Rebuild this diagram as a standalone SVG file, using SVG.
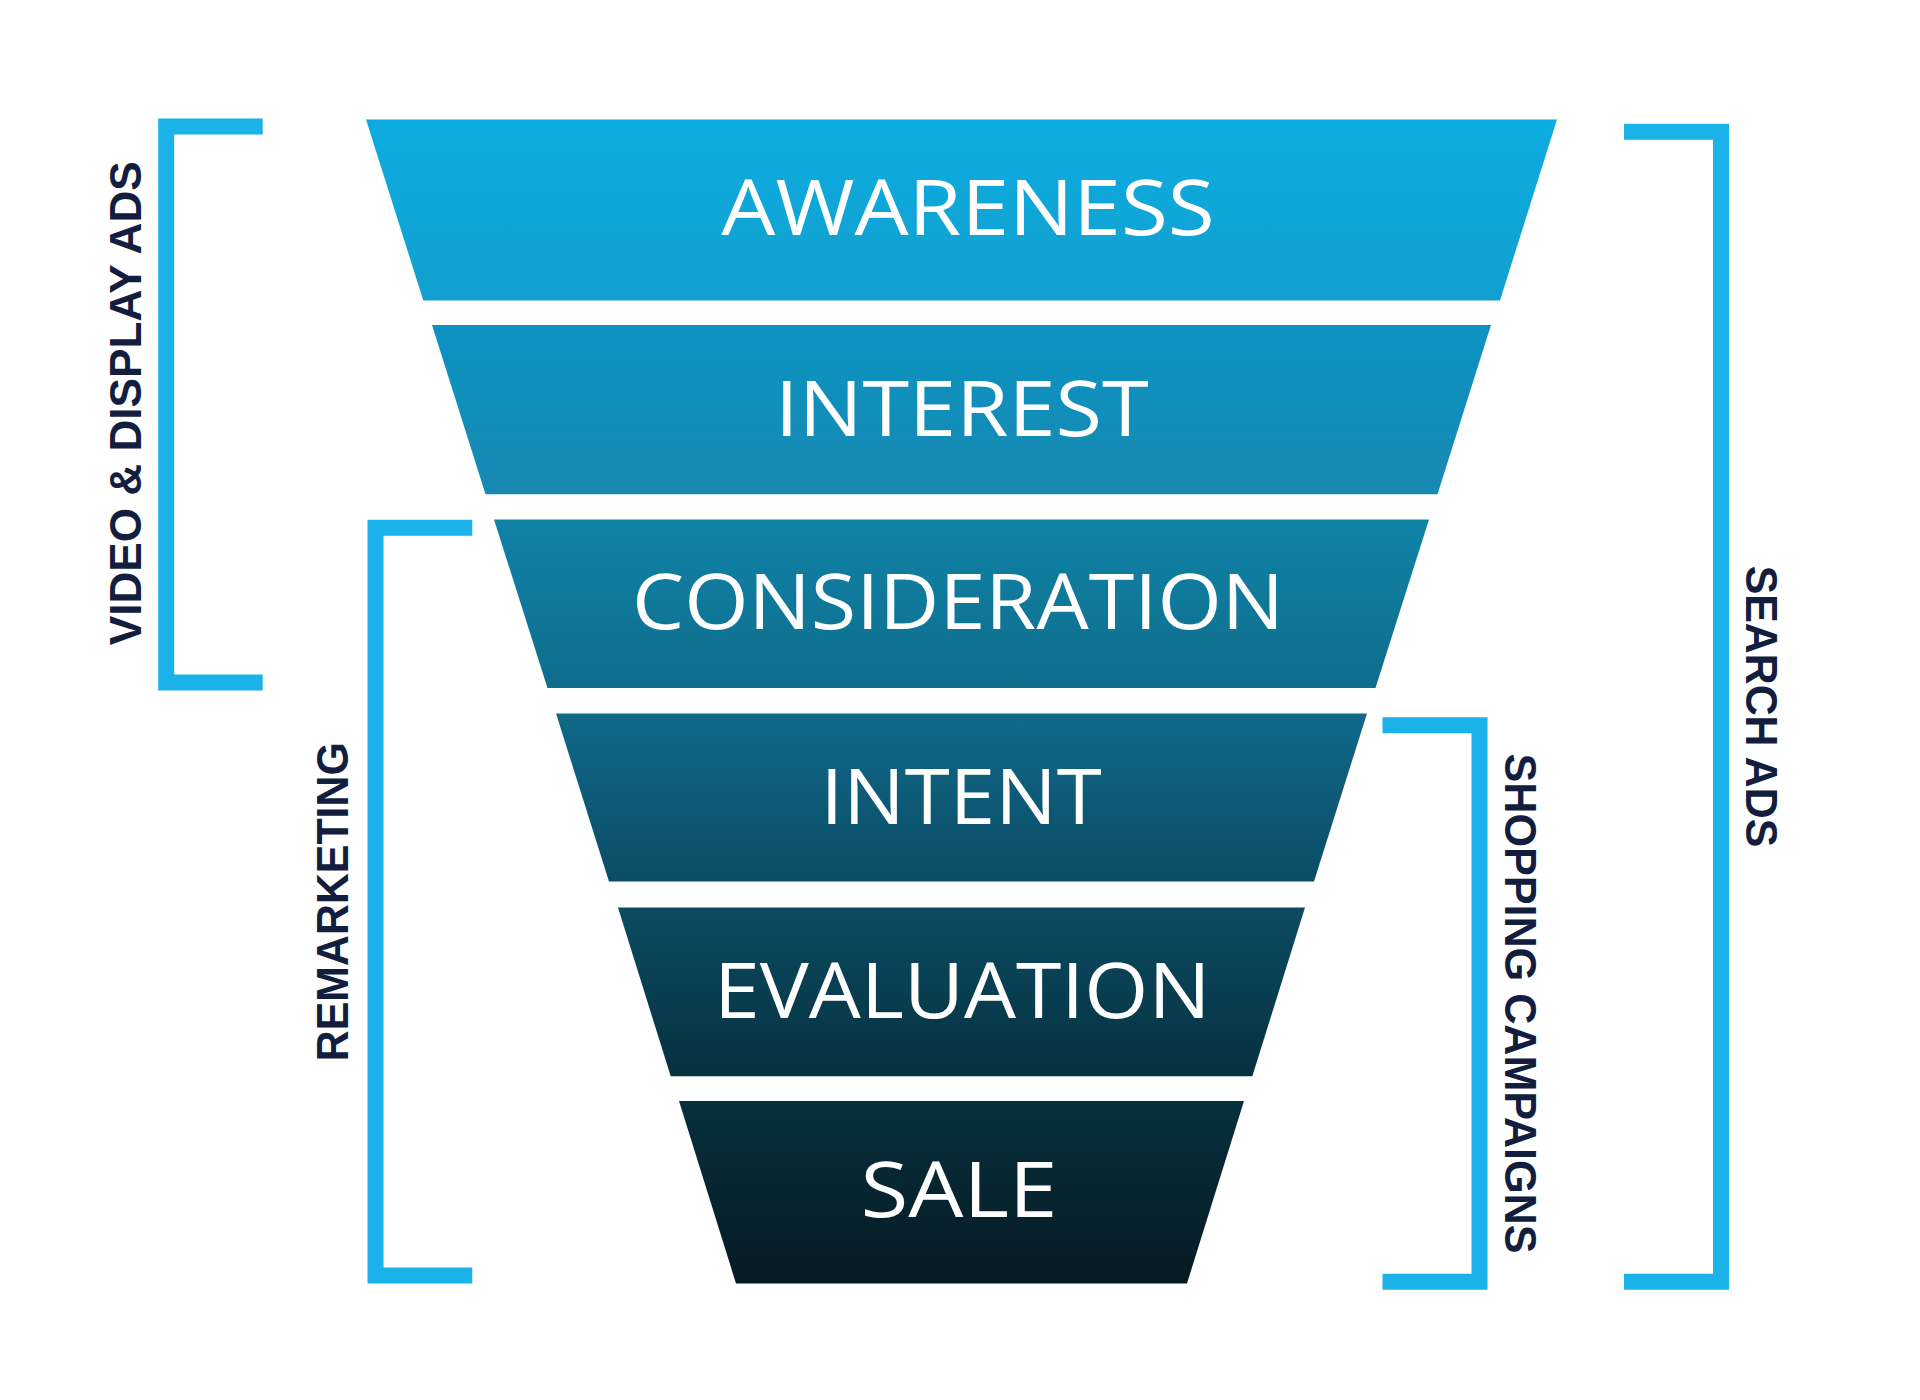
<svg xmlns="http://www.w3.org/2000/svg" width="1920" height="1400" viewBox="0 0 1920 1400">
  <defs>
    <linearGradient id="g1" x1="0" y1="0" x2="0" y2="1">
      <stop offset="0" stop-color="#0DACE0"/>
      <stop offset="1" stop-color="#12A0CF"/>
    </linearGradient>
    <linearGradient id="g2" x1="0" y1="0" x2="0" y2="1">
      <stop offset="0" stop-color="#0B93C1"/>
      <stop offset="1" stop-color="#1889B2"/>
    </linearGradient>
    <linearGradient id="g3" x1="0" y1="0" x2="0" y2="1">
      <stop offset="0" stop-color="#0F83A7"/>
      <stop offset="1" stop-color="#0F6D8C"/>
    </linearGradient>
    <linearGradient id="g4" x1="0" y1="0" x2="0" y2="1">
      <stop offset="0" stop-color="#106989"/>
      <stop offset="1" stop-color="#0B4C66"/>
    </linearGradient>
    <linearGradient id="g5" x1="0" y1="0" x2="0" y2="1">
      <stop offset="0" stop-color="#0C4B62"/>
      <stop offset="1" stop-color="#05313F"/>
    </linearGradient>
    <linearGradient id="g6" x1="0" y1="0" x2="0" y2="1">
      <stop offset="0" stop-color="#06303E"/>
      <stop offset="1" stop-color="#071A22"/>
    </linearGradient>
  </defs>
  <style>
    .stage { font-family: "Open Sans", "Liberation Sans", sans-serif; font-weight: 500; font-size: 77px; fill: #FFFFFF; }
    .side { font-family: "Liberation Sans", "DejaVu Sans", sans-serif; font-weight: 700; font-size: 44px; fill: #131E3E; }
    .bracket { fill: none; stroke: #1AB2E8; stroke-width: 16; stroke-linejoin: miter; stroke-linecap: butt; }
  </style>
  <rect width="1920" height="1400" fill="#FFFFFF"/>

  <g id="awareness">
    <polygon points="366,119.6 1557,119.6 1500,300.4 423.3,300.4" fill="url(#g1)"/>
    <text class="stage" x="721.3" y="235" textLength="493.5" lengthAdjust="spacingAndGlyphs">AWARENESS</text>
  </g>
  <g id="interest">
    <polygon points="432,325 1491,325 1437.5,494.3 485.5,494.3" fill="url(#g2)"/>
    <text class="stage" x="775" y="435.7" textLength="373.7" lengthAdjust="spacingAndGlyphs">INTEREST</text>
  </g>
  <g id="consideration">
    <polygon points="494,519.5 1429,519.5 1375.5,688 547.5,688" fill="url(#g3)"/>
    <text class="stage" x="632.1" y="629.3" textLength="652" lengthAdjust="spacingAndGlyphs">CONSIDERATION</text>
  </g>
  <g id="intent">
    <polygon points="556,713.5 1367,713.5 1314,881.6 609,881.6" fill="url(#g4)"/>
    <text class="stage" x="820.4" y="824.3" textLength="281.4" lengthAdjust="spacingAndGlyphs">INTENT</text>
  </g>
  <g id="evaluation">
    <polygon points="618,907.5 1305,907.5 1252.3,1076.3 670.7,1076.3" fill="url(#g5)"/>
    <text class="stage" x="714" y="1017.7" textLength="496.4" lengthAdjust="spacingAndGlyphs">EVALUATION</text>
  </g>
  <g id="sale">
    <polygon points="679,1101 1244,1101 1187,1283.5 736,1283.5" fill="url(#g6)"/>
    <text class="stage" x="860.4" y="1216.7" textLength="197" lengthAdjust="spacingAndGlyphs">SALE</text>
  </g>

  <g id="connectors">
    <g id="video-display-ads">
      <path class="bracket" d="M262.7,126.4 H166.2 V682.5 H262.7"/>
      <text class="side" transform="translate(140.7,645.3) rotate(-90)" x="0" y="0" textLength="484" lengthAdjust="spacingAndGlyphs">VIDEO &amp; DISPLAY ADS</text>
    </g>
    <g id="remarketing">
      <path class="bracket" d="M472.3,527.8 H375.5 V1275.5 H472.3"/>
      <text class="side" transform="translate(347.7,1061.2) rotate(-90)" x="0" y="0" textLength="319" lengthAdjust="spacingAndGlyphs">REMARKETING</text>
    </g>
    <g id="shopping-campaigns">
      <path class="bracket" d="M1382.5,725.3 H1479.5 V1281.7 H1382.5"/>
      <text class="side" transform="translate(1505.4,753.5) rotate(90)" x="0" y="0" textLength="500" lengthAdjust="spacingAndGlyphs">SHOPPING CAMPAIGNS</text>
    </g>
    <g id="search-ads">
      <path class="bracket" d="M1624,131.8 H1721 V1281.7 H1624"/>
      <text class="side" transform="translate(1746,565.7) rotate(90)" x="0" y="0" textLength="281.6" lengthAdjust="spacingAndGlyphs">SEARCH ADS</text>
    </g>
  </g>
</svg>
